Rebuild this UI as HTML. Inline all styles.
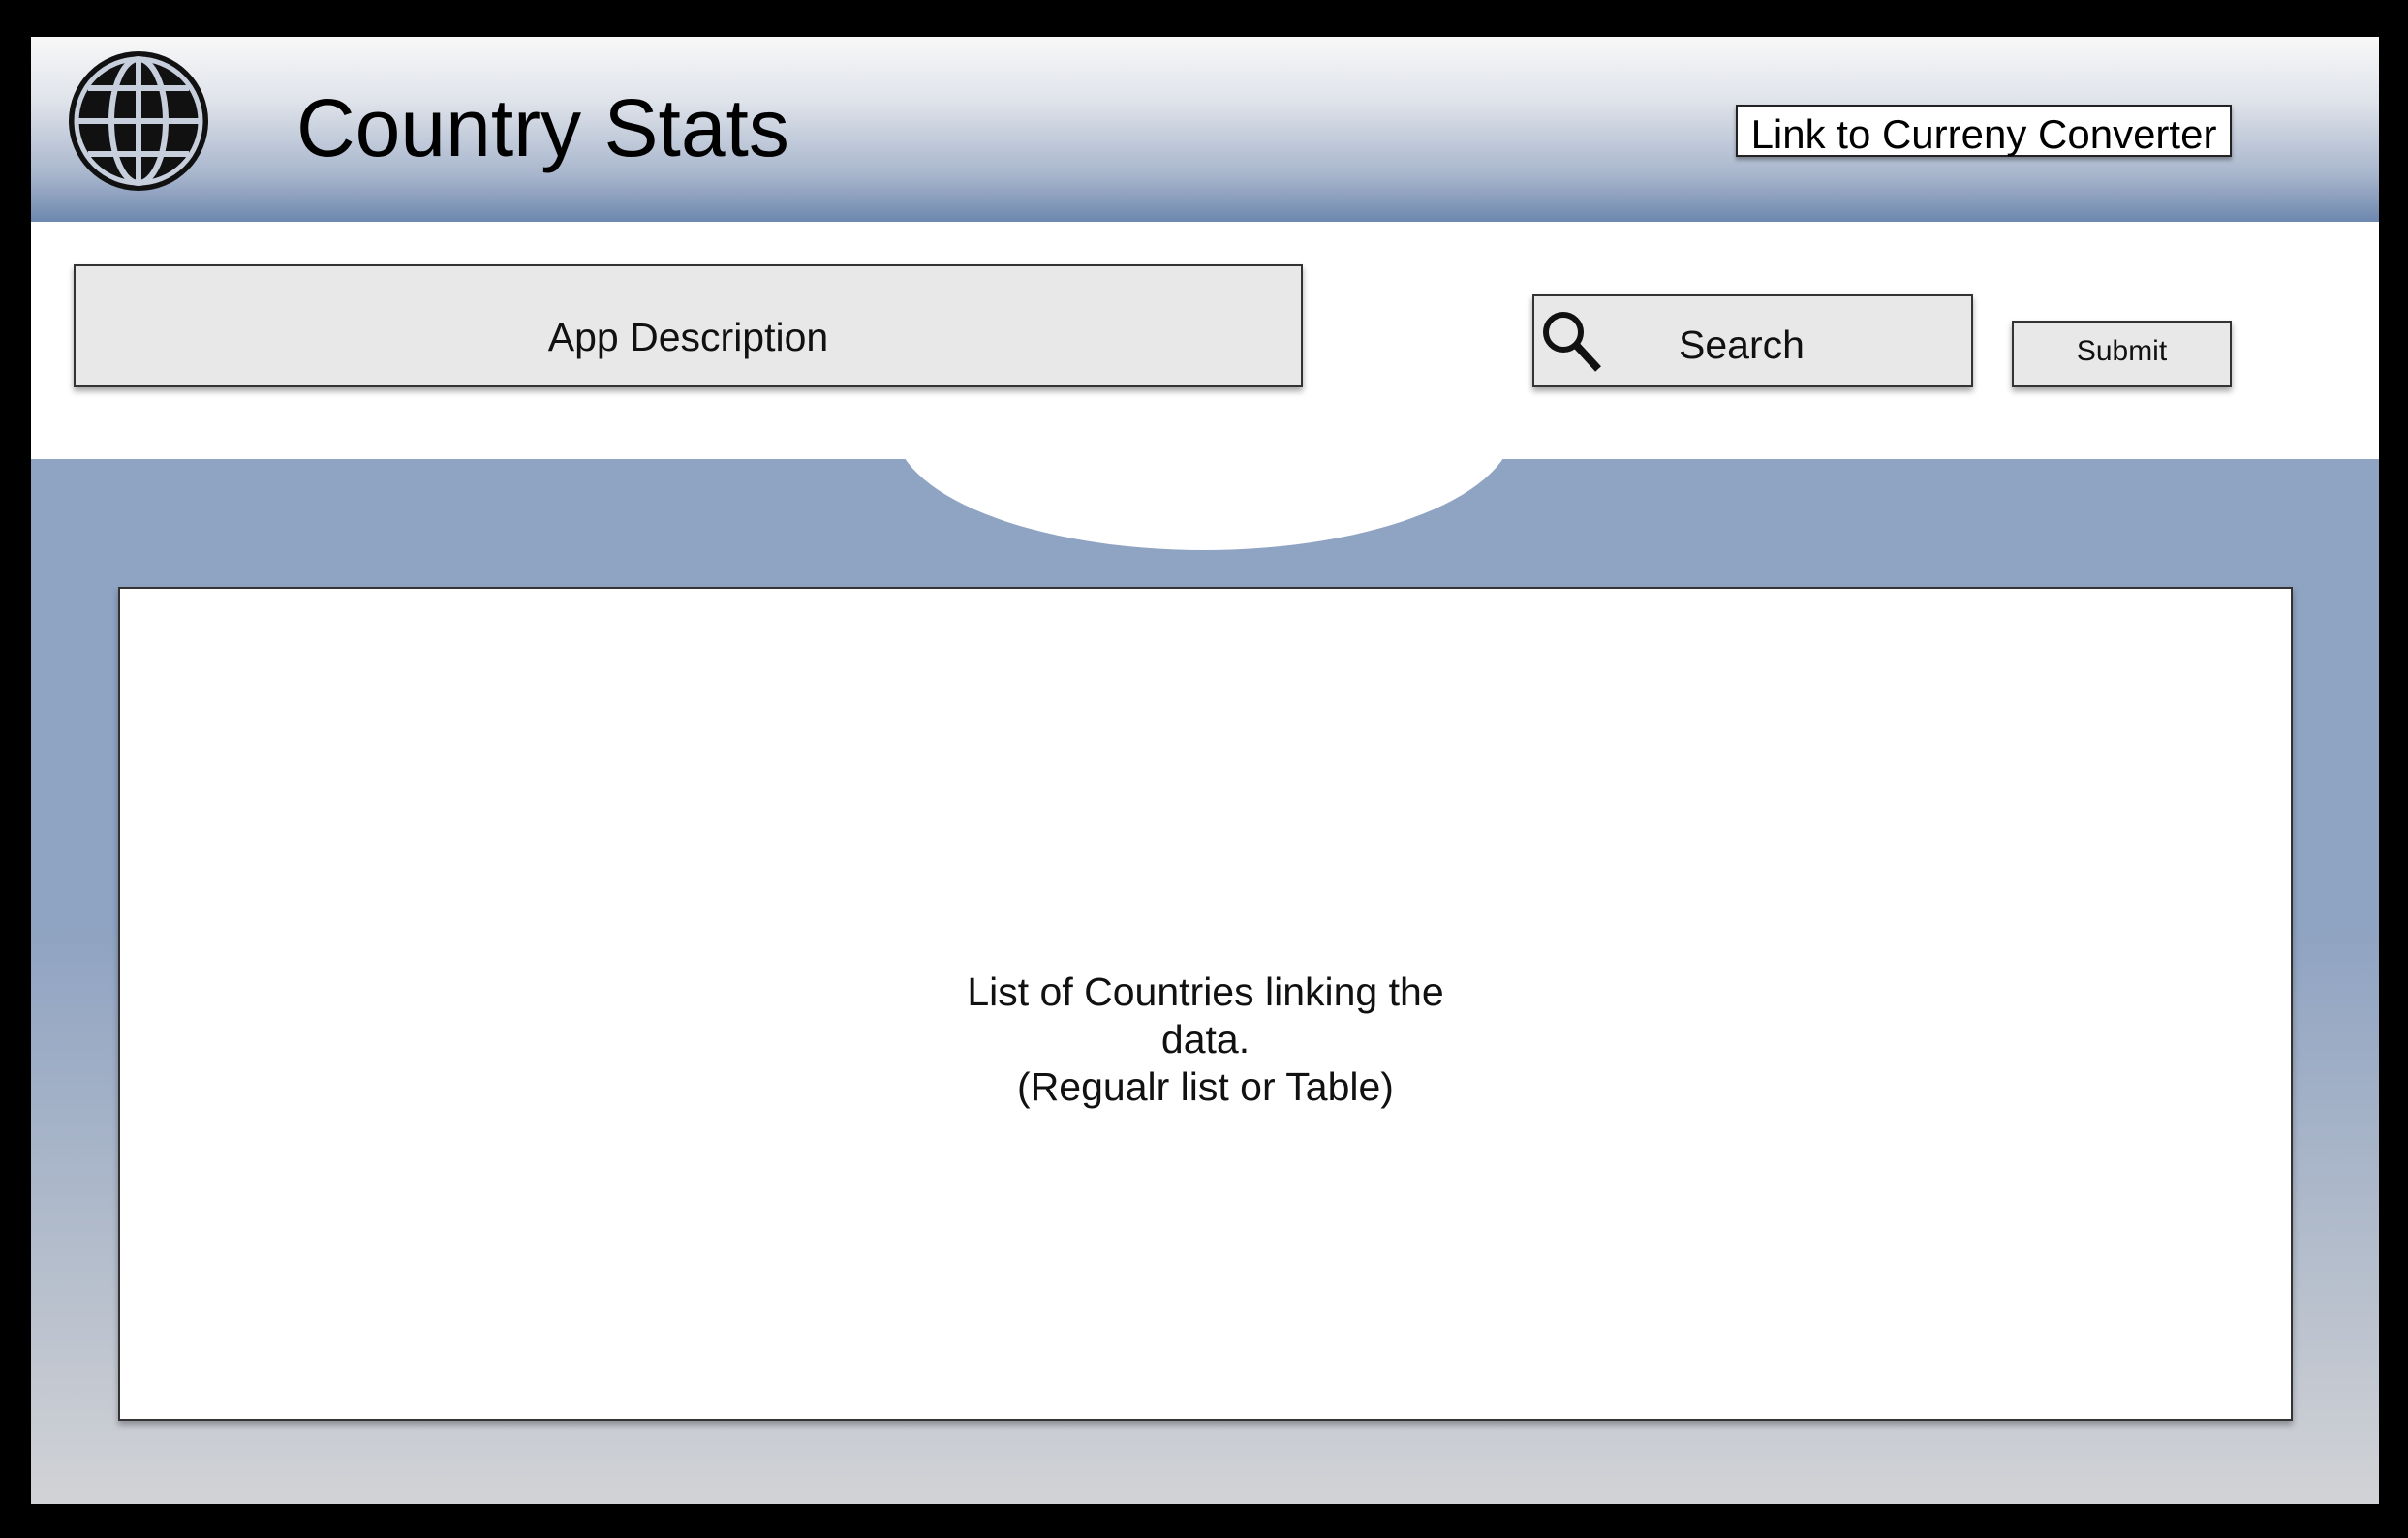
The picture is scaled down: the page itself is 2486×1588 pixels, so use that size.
<!DOCTYPE html>
<html><head><meta charset="utf-8"><style>
body{margin:0;width:2486px;height:1588px;background:#000;position:relative;overflow:hidden;font-family:"Liberation Sans",sans-serif;color:#111}
div{position:absolute;box-sizing:border-box}
.box{background:#e8e8e8;border:2px solid #333;box-shadow:0 4px 6px rgba(0,0,0,.35);display:flex;align-items:center;justify-content:center}
</style></head><body>
<div style="left:32px;top:38px;width:2424px;height:1515px;background:#fff"></div>
<div style="left:32px;top:38px;width:2424px;height:191px;background:linear-gradient(#f8f8f8 0%,#dfe3ea 35%,#a7b5cc 75%,#6d87ae 100%)"></div>
<div style="left:32px;top:474px;width:2424px;height:1079px;background:linear-gradient(#8fa3c2 0%,#8fa3c2 45%,#b2bccb 75%,#d2d3d6 100%)"></div>
<svg style="position:absolute;left:0;top:0" width="2486" height="1588"><ellipse cx="1243" cy="440" rx="320" ry="128" fill="#fff"/></svg>
<svg style="position:absolute;left:67px;top:49px" width="152" height="152" viewBox="0 0 152 152">
<circle cx="76" cy="76" r="72" fill="#111"/><circle cx="76" cy="76" r="64" fill="none" stroke="#c8cfdc" stroke-width="5"/>
<g stroke="#c8cfdc" stroke-width="6" fill="none"><ellipse cx="76" cy="76" rx="28" ry="64"/><line x1="76" y1="12" x2="76" y2="140"/><line x1="12" y1="76" x2="140" y2="76"/><line x1="24" y1="42" x2="128" y2="42"/><line x1="24" y1="110" x2="128" y2="110"/></g></svg>
<div style="left:306px;top:82px;font-size:84px;line-height:100px;color:#000">Country Stats</div>
<div style="left:1792px;top:108px;width:512px;height:54px;background:#fff;border:2px solid #222;box-shadow:0 3px 4px rgba(0,0,0,.35);font-size:42px;display:flex;align-items:center;justify-content:center;color:#000;padding-top:8px">Link to Curreny Converter</div>
<div class="box" style="left:76px;top:273px;width:1269px;height:127px;font-size:41px;padding-top:24px">App Description</div>
<div class="box" style="left:1582px;top:304px;width:455px;height:96px;font-size:41px;justify-content:flex-start">
<svg width="70" height="70" viewBox="0 0 70 70" style="margin-left:4px"><circle cx="26" cy="26" r="18" fill="none" stroke="#111" stroke-width="6"/><line x1="39" y1="39" x2="62" y2="64" stroke="#111" stroke-width="8"/></svg>
<span style="margin-left:75px;padding-top:8px">Search</span></div>
<div class="box" style="left:2077px;top:331px;width:227px;height:69px;font-size:30px;padding-bottom:6px">Submit</div>
<div style="left:122px;top:606px;width:2245px;height:861px;background:#fff;border:2px solid #333;box-shadow:0 4px 6px rgba(0,0,0,.3);display:flex;align-items:center;justify-content:center;text-align:center;font-size:41px;line-height:49px;padding-top:74px">
<span style="width:540px">List of Countries linking the data.<br>(Regualr list or Table)</span></div>
</body></html>
